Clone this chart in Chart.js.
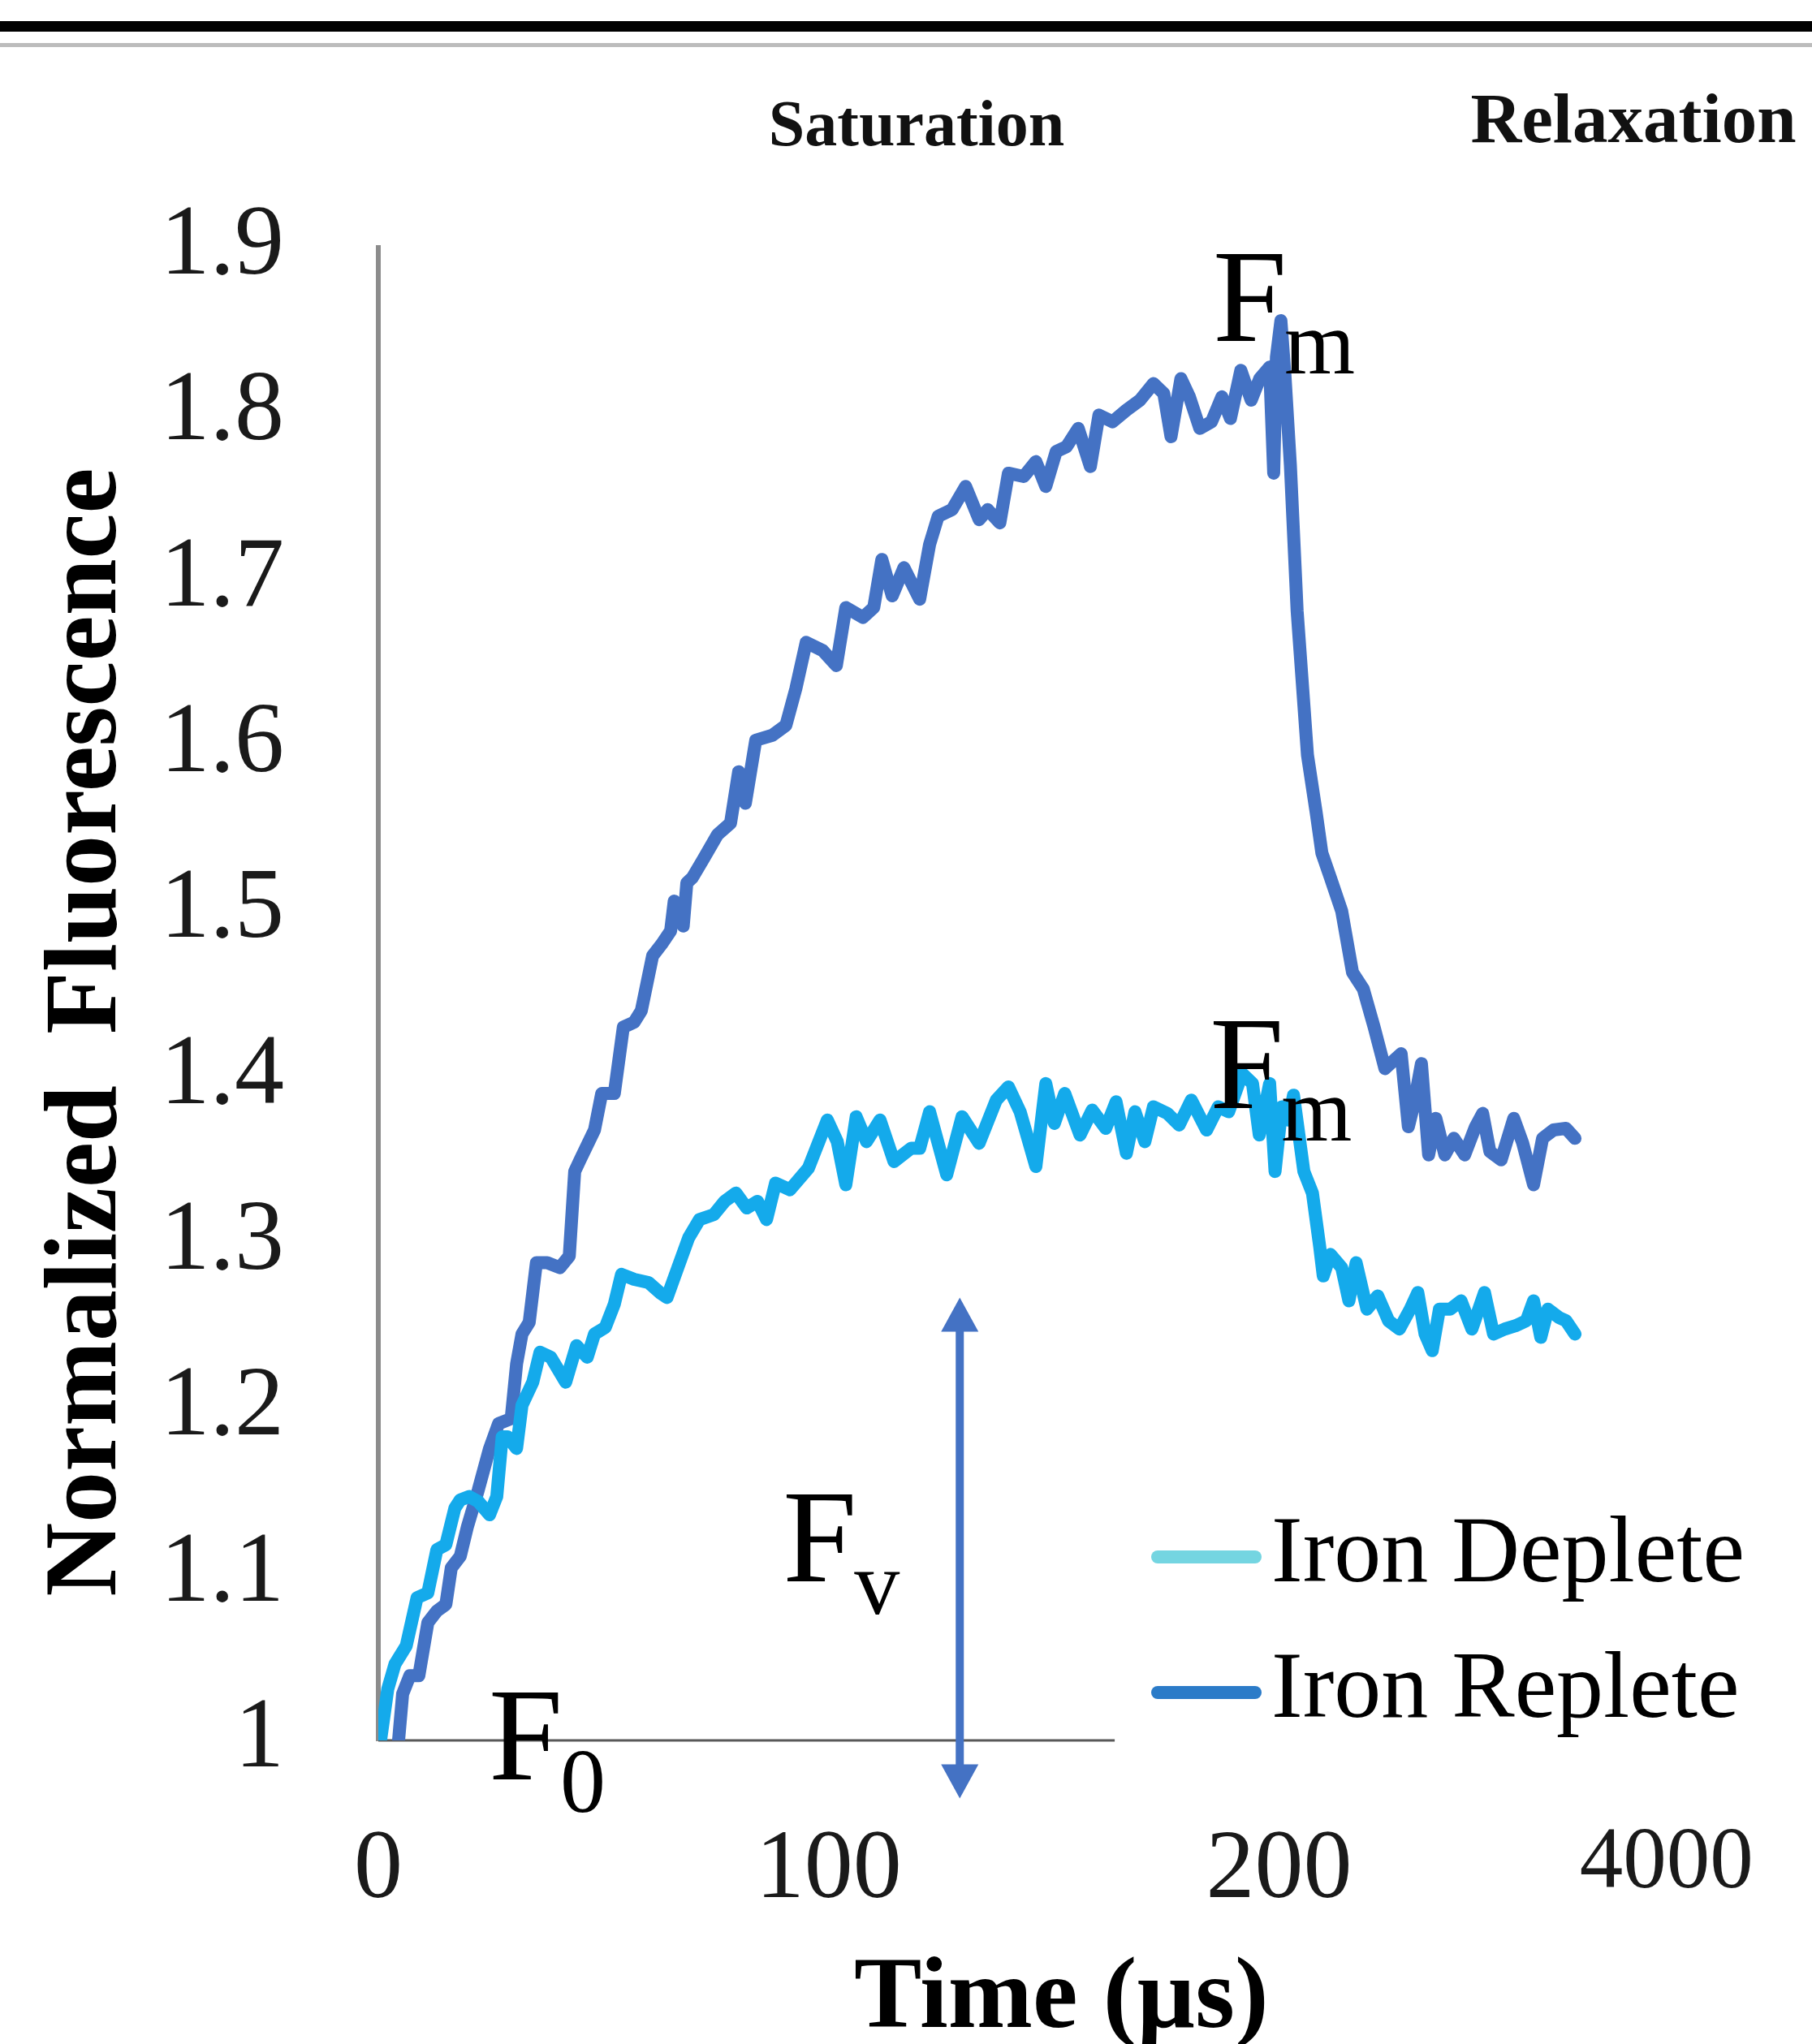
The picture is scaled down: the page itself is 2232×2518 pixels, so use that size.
<!DOCTYPE html>
<html>
<head>
<meta charset="utf-8">
<title>Fluorescence Induction</title>
<script src="https://cdn.jsdelivr.net/npm/chart.js@4.4.1/dist/chart.umd.min.js"></script>
<style>
  html, body { margin: 0; padding: 0; background: #fff; }
  #chart-container { position: relative; width: 2232px; height: 2518px; }
</style>
</head>
<body>
<div id="chart-container">
    <canvas id="myChart"></canvas>
</div>

<script>
// time (us, saturation part; values past 200 belong to the relaxation part)
var depleteTime = [0.5, 2.1, 3.7, 6.2, 8.6, 11, 13, 15, 17, 18.2, 20.2, 22.2, 24.7, 26.3, 27.5, 28.7, 30.7, 31.9, 34.3, 35.9,
    38.3, 41.6, 44, 46.4, 48, 50.4, 52.4, 54, 56.8, 60, 62.5, 64.1, 66.5, 68.9, 71.3, 74.5, 76.9, 79.4, 81.8, 84.2,
    86.2, 88.2, 91.4, 95.5, 99.7, 101.9, 103.8, 106.1, 108.4, 111.4, 114.5, 118.3, 120.2, 122.4, 126.2, 129.6, 133.4, 137.2, 139.9, 142.5,
    146, 148.2, 150.1, 152.4, 155.8, 158.5, 161.5, 163.8, 166.1, 168, 170.2, 172.1, 175.2, 177.8, 180.5, 183.9, 186.5, 188.8, 191.8, 194.1,
    195.6, 197.9, 199.1, 200.6, 202.1, 203.2, 205.5, 207.4, 209, 209.8, 211.4, 213.9, 215.5, 217.1, 219.5, 221.9, 224.3, 226.7, 229.1, 230.8,
    232.4, 234, 235.6, 238, 240.4, 242.8, 245.6, 247.6, 250.1, 252.5, 254.9, 256.5, 258.1, 259.7, 262.1, 263.7, 265.7];
var depleteValue = [1.0, 1.031, 1.046, 1.057, 1.086, 1.089, 1.115, 1.118, 1.14, 1.145, 1.147, 1.144, 1.136, 1.147, 1.183, 1.183, 1.176, 1.202, 1.216, 1.234,
    1.231, 1.216, 1.238, 1.231, 1.245, 1.249, 1.263, 1.281, 1.278, 1.276, 1.27, 1.267, 1.285, 1.303, 1.314, 1.317, 1.325, 1.33, 1.321, 1.325,
    1.314, 1.336, 1.332, 1.345, 1.374, 1.361, 1.335, 1.376, 1.361, 1.374, 1.349, 1.357, 1.357, 1.379, 1.341, 1.376, 1.36, 1.386, 1.394, 1.379,
    1.346, 1.396, 1.372, 1.39, 1.365, 1.38, 1.369, 1.385, 1.354, 1.379, 1.361, 1.382, 1.378, 1.371, 1.386, 1.368, 1.382, 1.379, 1.402, 1.396,
    1.365, 1.396, 1.343, 1.382, 1.374, 1.389, 1.343, 1.33, 1.298, 1.28, 1.293, 1.285, 1.265, 1.288, 1.26, 1.268, 1.253, 1.248, 1.26, 1.27,
    1.245, 1.235, 1.26, 1.26, 1.265, 1.248, 1.27, 1.245, 1.248, 1.25, 1.253, 1.265, 1.243, 1.26, 1.255, 1.253, 1.245];

var repleteTime = [4.5, 5.4, 7, 9, 11, 13, 15, 16.2, 18.2, 19.8, 22.2, 24.7, 26.7, 29.5, 30.7, 31.9, 33.5, 35.1, 37.5, 40.3,
    42.4, 43.6, 44.8, 48, 49.6, 52.4, 54.4, 56.8, 58.4, 60.9, 62.9, 64.9, 65.7, 67.7, 68.5, 69.7, 72.1, 75.3, 78.2, 80,
    81.5, 83.8, 87.5, 90.5, 92.7, 95, 98.7, 101.7, 103.8, 107.6, 110, 111.8, 114.1, 116.7, 120.2, 122.4, 124.3, 127.4, 130.4, 133.4,
    135.3, 138, 139.9, 143.3, 146, 148.2, 150.5, 152.8, 155.4, 158.1, 160, 163, 166.1, 169.1, 172.1, 174.4, 176, 178.2, 180.1, 182.4,
    185, 187.3, 189.2, 191.5, 193.8, 195.7, 197.9, 198.8, 199.4, 200.4, 201.3, 202.5, 204, 206.3, 208.2, 209.5, 211.4, 213.9, 216.3, 218.7,
    221.1, 223.5, 225.5, 227.1, 228.7, 229.9, 231.6, 233.2, 234.8, 236.8, 238.8, 241.2, 243.6, 245.2, 246.8, 249.3, 252.1, 254.1, 256.5, 258.5,
    260.9, 263.7, 265.7];
var repleteValue = [1.0, 1.028, 1.039, 1.039, 1.071, 1.078, 1.082, 1.104, 1.111, 1.129, 1.151, 1.176, 1.191, 1.194, 1.227, 1.245, 1.252, 1.288, 1.288, 1.285,
    1.292, 1.343, 1.35, 1.368, 1.39, 1.39, 1.43, 1.433, 1.44, 1.473, 1.48, 1.488, 1.506, 1.491, 1.517, 1.52, 1.531, 1.546, 1.553, 1.584,
    1.565, 1.603, 1.606, 1.612, 1.634, 1.662, 1.657, 1.648, 1.683, 1.677, 1.683, 1.712, 1.69, 1.707, 1.688, 1.721, 1.738, 1.742, 1.756, 1.736,
    1.742, 1.734, 1.764, 1.762, 1.771, 1.756, 1.777, 1.78, 1.791, 1.768, 1.799, 1.795, 1.802, 1.808, 1.818, 1.812, 1.786, 1.821, 1.81, 1.791,
    1.795, 1.81, 1.797, 1.826, 1.808, 1.821, 1.828, 1.764, 1.834, 1.856, 1.823, 1.769, 1.681, 1.594, 1.56, 1.535, 1.52, 1.5, 1.463, 1.453,
    1.43, 1.405, 1.41, 1.414, 1.37, 1.383, 1.408, 1.353, 1.375, 1.353, 1.363, 1.353, 1.37, 1.378, 1.355, 1.35, 1.375, 1.36, 1.335, 1.363,
    1.368, 1.369, 1.363];

var xTickValues = [0, 100, 200, 286];
var xTickLabels = ['0', '100', '200', '4000'];

// F labels (x, y at the baseline of the F) and the Fv arrow
var markText = ['m', 'm', 'v', '0'];
var markX = [185.3, 184.6, 89.8, 24.5];
var markY = [1.8435, 1.3813, 1.0959, 0.9765];
var arrowX = 129.1, arrowTop = 1.267, arrowBottom = 0.965;
var axisLineEnd = 163.5;

var serif = "'Liberation Serif', 'Times New Roman', serif";
var lineColors = ['#14AAEB', '#4472C4'];
var legendColors = ['#74D5E1', '#2B7BC8'];

function toPoints(t, v) {
    return t.map(function (x, i) { return {x: x, y: v[i]}; });
}

// legend sample: a short thick stroke sitting close to the label text
function legendSwatch(color) {
    var c = document.createElement('canvas');
    c.width = 202;
    c.height = 20;
    var g = c.getContext('2d');
    g.strokeStyle = color;
    g.lineWidth = 16;
    g.lineCap = 'round';
    g.beginPath();
    g.moveTo(74, 10);
    g.lineTo(194, 10);
    g.stroke();
    return c;
}

var extras = {
    id: 'extras',
    afterLayout: function (chart) {
        var lg = chart.legend;
        lg.left = 1347;
        lg.right = lg.left + lg.width;
        lg.bottom = 2194;
        lg.top = lg.bottom - lg.height;
    },
    beforeDraw: function (chart) {
        var ctx = chart.ctx;
        ctx.save();
        ctx.fillStyle = '#000';
        ctx.fillRect(0, 26, chart.width, 13);
        ctx.fillStyle = '#bcbcbc';
        ctx.fillRect(0, 53, chart.width, 5);
        ctx.fillStyle = '#111';
        ctx.textAlign = 'center';
        ctx.textBaseline = 'alphabetic';
        ctx.font = 'bold 80px ' + serif;
        ctx.fillText('Saturation', 1129, 179);
        ctx.font = 'bold 87px ' + serif;
        ctx.fillText('Relaxation', 2012, 175);
        ctx.restore();
    },
    beforeDatasetsDraw: function (chart) {
        var xs = chart.scales.x, ys = chart.scales.y, ctx = chart.ctx;
        ctx.save();
        ctx.strokeStyle = '#595959';
        ctx.lineWidth = 3;
        ctx.beginPath();
        ctx.moveTo(xs.getPixelForValue(0), ys.getPixelForValue(1));
        ctx.lineTo(xs.getPixelForValue(axisLineEnd), ys.getPixelForValue(1));
        ctx.stroke();
        ctx.restore();
    },
    afterDatasetsDraw: function (chart) {
        var xs = chart.scales.x, ys = chart.scales.y, ctx = chart.ctx;
        ctx.save();
        // Fv arrow
        var ax = xs.getPixelForValue(arrowX);
        var top = ys.getPixelForValue(arrowTop);
        var bot = ys.getPixelForValue(arrowBottom);
        var head = 42, half = 23;
        ctx.strokeStyle = '#4472C4';
        ctx.fillStyle = '#4472C4';
        ctx.lineWidth = 10;
        ctx.beginPath();
        ctx.moveTo(ax, top + head - 2);
        ctx.lineTo(ax, bot - head + 2);
        ctx.stroke();
        ctx.beginPath();
        ctx.moveTo(ax, top);
        ctx.lineTo(ax - half, top + head);
        ctx.lineTo(ax + half, top + head);
        ctx.closePath();
        ctx.fill();
        ctx.beginPath();
        ctx.moveTo(ax, bot);
        ctx.lineTo(ax - half, bot - head);
        ctx.lineTo(ax + half, bot - head);
        ctx.closePath();
        ctx.fill();
        // F labels
        ctx.fillStyle = '#000';
        ctx.textAlign = 'left';
        ctx.textBaseline = 'alphabetic';
        for (var i = 0; i < markText.length; i++) {
            var px = xs.getPixelForValue(markX[i]);
            var py = ys.getPixelForValue(markY[i]);
            ctx.font = '164px ' + serif;
            ctx.fillText('F', px, py);
            ctx.font = '112px ' + serif;
            ctx.fillText(markText[i], px + 88, py + 40);
        }
        ctx.restore();
    }
};

var chartdata = {
    datasets: [
        {
            label: 'Iron Deplete',
            data: toPoints(depleteTime, depleteValue),
            borderColor: lineColors[0],
            backgroundColor: lineColors[0],
            borderWidth: 16,
            pointRadius: 0,
            tension: 0,
            borderJoinStyle: 'round',
            borderCapStyle: 'round',
            fill: false
        },
        {
            label: 'Iron Replete',
            data: toPoints(repleteTime, repleteValue),
            borderColor: lineColors[1],
            backgroundColor: lineColors[1],
            borderWidth: 16,
            pointRadius: 0,
            tension: 0,
            borderJoinStyle: 'round',
            borderCapStyle: 'round',
            fill: false
        }
    ]
};

var chartTarget = document.getElementById('myChart');

var lineChart = new Chart(chartTarget, {
    type: 'line',
    data: chartdata,
    plugins: [extras],
    options: {
        responsive: true,
        maintainAspectRatio: false,
        devicePixelRatio: 1,
        animation: false,
        events: [],
        layout: { padding: { top: 305, right: 146, bottom: 3, left: 0 } },
        plugins: {
            tooltip: { enabled: false },
            legend: {
                position: 'chartArea',
                align: 'end',
                labels: {
                    usePointStyle: true,
                    pointStyleWidth: 110,
                    padding: 51,
                    color: '#111',
                    font: { family: serif, size: 116 },
                    generateLabels: function (chart) {
                        return chart.data.datasets.map(function (ds, i) {
                            return {
                                text: ds.label,
                                datasetIndex: i,
                                pointStyle: legendSwatch(legendColors[i]),
                                strokeStyle: legendColors[i],
                                fillStyle: legendColors[i],
                                lineWidth: 0,
                                hidden: false
                            };
                        });
                    }
                }
            }
        },
        scales: {
            x: {
                type: 'linear',
                min: 0,
                max: 292,
                afterBuildTicks: function (scale) {
                    scale.ticks = xTickValues.map(function (v) { return {value: v}; });
                },
                afterFit: function (scale) {
                    scale.height = 371;
                    scale.paddingLeft = 0;
                    scale.paddingRight = 0;
                },
                ticks: {
                    padding: 89,
                    autoSkip: false,
                    maxRotation: 0,
                    color: '#1a1a1a',
                    font: function (ctx) {
                        var last = ctx.tick && ctx.tick.value === xTickValues[3];
                        return { family: serif, size: last ? 107 : 120 };
                    },
                    callback: function (value, index) { return xTickLabels[index]; }
                },
                grid: { display: false, drawTicks: false },
                border: { display: false },
                title: {
                    display: true,
                    text: '  Time (\u00b5s)',
                    color: '#000',
                    font: { family: serif, size: 125, weight: 'bold', lineHeight: 0.8 },
                    padding: { top: 0, bottom: 0 }
                }
            },
            y: {
                min: 1,
                max: 1.9,
                afterFit: function (scale) {
                    scale.width = 466;
                    scale.paddingTop = 0;
                    scale.paddingBottom = 0;
                },
                ticks: {
                    stepSize: 0.1,
                    padding: 116,
                    color: '#1a1a1a',
                    font: { family: serif, size: 122 },
                    callback: function (value) { return String(+value.toFixed(1)); }
                },
                grid: { display: false, drawTicks: false },
                border: { display: true, color: '#8c8c8c', width: 6 },
                title: {
                    display: true,
                    text: 'Normalized  Fluorescence   ',
                    color: '#000',
                    font: { family: serif, size: 126, weight: 'bold', lineHeight: 1.2 },
                    padding: { top: 34, bottom: 0 }
                }
            }
        }
    }
});
</script>

</body>
</html>
